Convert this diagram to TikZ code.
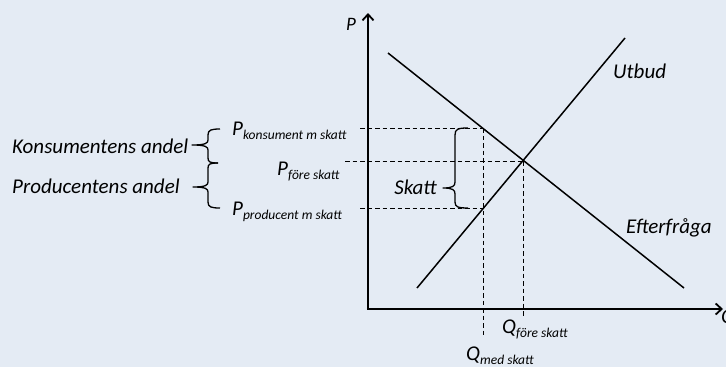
\documentclass[tikz,border=0pt]{standalone}
\usepackage{fontspec}
\setmainfont{Carlito}
\usetikzlibrary{arrows.meta}
\definecolor{bg}{RGB}{228,235,244}
\tikzset{
  lbl/.style={inner sep=0pt, anchor=base west, font=\itshape\fontsize{21}{25}\selectfont},
  axisline/.style={line width=2.3pt, -{Straight Barb[length=6pt,width=11pt,line width=1.8pt]}},
  curve/.style={line width=1.5pt},
  guide/.style={line width=0.9pt, dash pattern=on 4.5pt off 3pt},
  bracel/.style={line width=1.3pt, line join=round}
}
\newcommand{\sbs}[1]{\raisebox{-0.2em}{\fontsize{13.5}{15}\selectfont #1}}
\begin{document}
\begin{tikzpicture}[x=1pt,y=-1pt]
\useasboundingbox (0,0) rectangle (726,367);
\clip (0,0) rectangle (726,367);
\fill[bg] (0,0) rectangle (726,367);
% axes
\coordinate (O) at (368,309);
\coordinate (Ytop) at (368,13);
\coordinate (Xend) at (723,309);
\draw[axisline] (O) -- (Ytop);
\draw[axisline] ([xshift=-1.1pt]O) -- (Xend);
\node[lbl, font=\itshape\fontsize{19}{22}\selectfont] (Plab) at (346,30) {P};
\node[lbl] (Qlab) at (721,323) {Q};
% curves
\coordinate (D1) at (388,53);
\coordinate (D2) at (684,288);
\coordinate (S1) at (417,288);
\coordinate (S2) at (625,38);
\coordinate (E) at (523,161);
\draw[curve] (D1) -- (D2);
\draw[curve] (S1) -- (S2);
\node[lbl] (utbud) at (613,78) {Utbud};
\node[lbl] (efter) at (626,233) {Efterfråga};
% guide lines
\coordinate (Ck) at (483,128);
\coordinate (Cp) at (483,208);
\coordinate (Ckl) at (360,128);
\coordinate (Cfl) at (345,161);
\coordinate (Cpl) at (360,208);
\coordinate (Qmb) at (483,337);
\coordinate (Qfb) at (523,317);
\draw[guide] (Ckl) -- (Ck);
\draw[guide] (Cfl) -- (E);
\draw[guide] (Cpl) -- (Cp);
\draw[guide] (Ck) -- (Qmb);
\draw[guide] (E) -- (Qfb);
% price labels
\node[lbl] (Pk) at (232,135) {P\sbs{konsument m skatt}};
\node[lbl] (Pf) at (277,175) {P\sbs{före skatt}};
\node[lbl] (Pp) at (232,215) {P\sbs{producent m skatt}};
\node[lbl] (Qf) at (502,333) {Q\sbs{före skatt}};
\node[lbl] (Qm) at (466,360) {Q\sbs{med skatt}};
% Skatt brace
\draw[bracel] (468,128) .. controls (458,128) and (455,129) .. (455,135)
  -- (455,182) .. controls (455,186) and (453,188) .. (443,188)
  .. controls (453,188) and (455,190) .. (455,194)
  -- (455,202) .. controls (455,207) and (458,208) .. (468,208);
\node[lbl, anchor=east] (skatt) at (437,187) {Skatt};
% left braces
\draw[bracel] (220,129) .. controls (211,129) and (208,130) .. (208,135)
  -- (208,140) .. controls (208,143) and (206,145) .. (192,145)
  .. controls (206,145) and (208,147) .. (208,150)
  -- (208,158) .. controls (208,162) and (210,163) .. (218,163);
\draw[bracel] (218,163) .. controls (210,163) and (208,164) .. (208,168)
  -- (208,182) .. controls (208,185) and (206,187) .. (193,187)
  .. controls (206,187) and (208,189) .. (208,192)
  -- (208,202) .. controls (208,207) and (211,208) .. (220,208);
\node[lbl] (kons) at (12,153) {Konsumentens andel};
\node[lbl] (prod) at (12,193) {Producentens andel};
\end{tikzpicture}
\end{document}
